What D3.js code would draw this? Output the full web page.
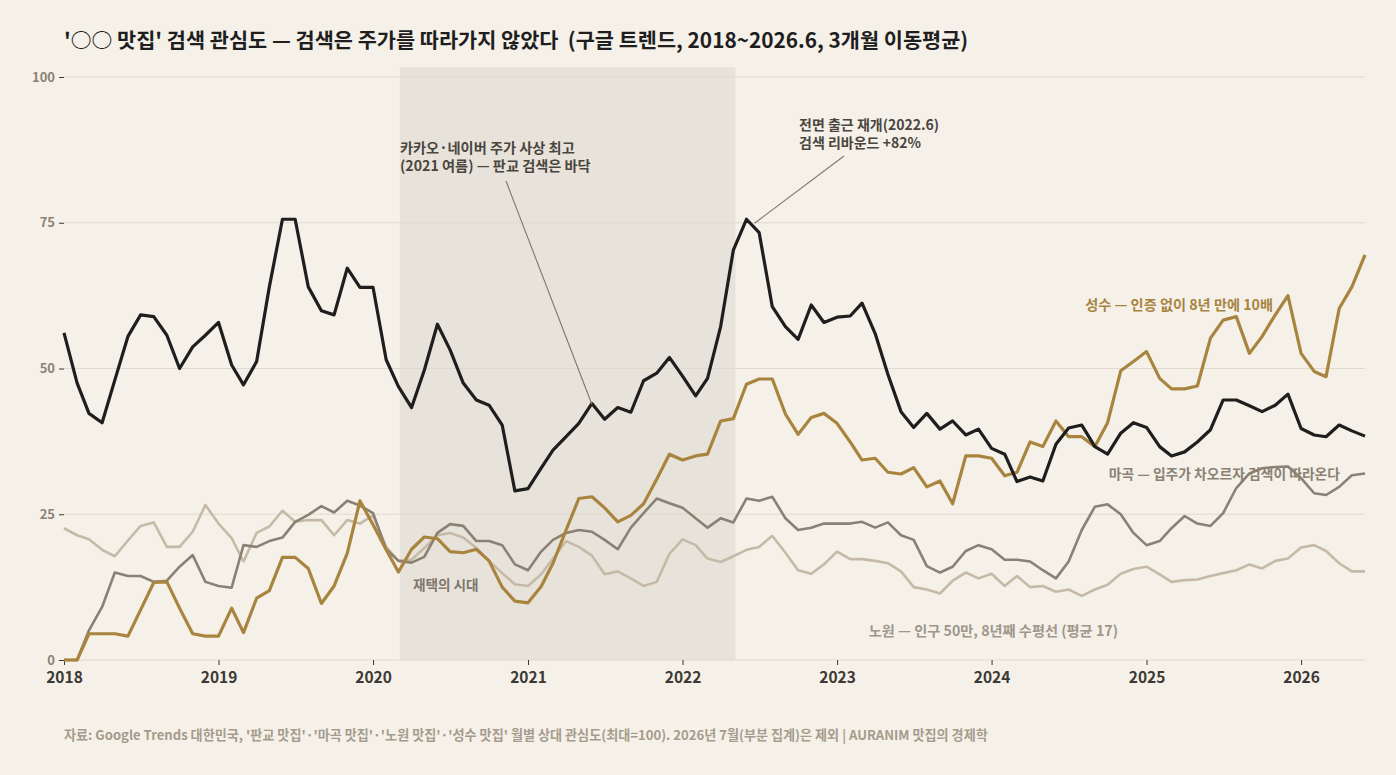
<!DOCTYPE html>
<html>
<head>
<meta charset="utf-8">
<script src="https://cdn.jsdelivr.net/npm/d3@7"></script>
<style>
  body { margin: 0; background: #f5f1e9; }
  svg { display: block; font-family: "Noto Sans CJK KR", "Noto Sans", sans-serif; }
</style>
</head>
<body>
<div id="chart"></div>
<script>
// monthly values, 2018-01 .. 2026-06 (3-month moving average, max = 100)
const startMonth = "2018-01";
const pangyo = [56.1, 47.5, 42.3, 40.7, 48.0, 55.5, 59.2, 58.9, 55.7, 50.0, 53.7, 55.7,
  57.9, 50.6, 47.2, 51.2, 64.0, 75.6, 75.6, 64.0, 59.9, 59.2, 67.2, 63.9,
  63.9, 51.5, 46.9, 43.3, 49.7, 57.6, 53.2, 47.5, 44.6, 43.7, 40.3, 29.0,
  29.4, 32.9, 36.0, 38.3, 40.6, 44.0, 41.3, 43.3, 42.5, 47.9, 49.2, 51.9,
  48.7, 45.3, 48.3, 57.2, 70.3, 75.6, 73.3, 60.6, 57.2, 55.0, 60.9, 57.9,
  58.8, 59.0, 61.2, 56.0, 49.0, 42.6, 39.9, 42.3, 39.6, 41.0, 38.6, 39.6,
  36.3, 35.3, 30.6, 31.4, 30.7, 37.0, 39.8, 40.3, 36.6, 35.3, 38.9, 40.7,
  39.9, 36.6, 35.0, 35.7, 37.4, 39.5, 44.6, 44.6, 43.6, 42.6, 43.7, 45.6,
  39.7, 38.6, 38.3, 40.3, 39.3, 38.4];
const seongsu = [0, 0, 4.5, 4.5, 4.5, 4.1, 8.6, 13.3, 13.4, 8.9, 4.5, 4.1,
  4.1, 8.9, 4.7, 10.6, 11.9, 17.6, 17.6, 15.7, 9.7, 12.7, 18.3, 27.3,
  23.2, 18.9, 15.1, 19.0, 21.1, 20.8, 18.6, 18.4, 19.0, 17.0, 12.5, 10.1,
  9.8, 12.6, 16.6, 22.3, 27.7, 28.0, 26.1, 23.7, 24.8, 26.8, 31.0, 35.3,
  34.3, 35.0, 35.3, 41.0, 41.4, 47.3, 48.2, 48.2, 42.2, 38.7, 41.6, 42.3,
  40.6, 37.4, 34.3, 34.6, 32.2, 31.9, 33.0, 29.7, 30.7, 26.8, 35.0, 35.0,
  34.6, 31.6, 32.2, 37.4, 36.6, 41.0, 38.3, 38.3, 36.6, 40.7, 49.6, 51.2,
  52.9, 48.3, 46.5, 46.5, 47.0, 55.2, 58.3, 58.9, 52.6, 55.5, 59.2, 62.5,
  52.6, 49.5, 48.6, 60.3, 64.0, 69.5];
const magok = [0, 0, 5.1, 9.1, 15.0, 14.4, 14.4, 13.4, 13.6, 16.0, 18.0, 13.4,
  12.7, 12.4, 19.7, 19.4, 20.4, 21.0, 23.7, 24.9, 26.4, 25.3, 27.3, 26.5,
  25.2, 19.0, 17.0, 16.7, 17.7, 21.8, 23.3, 23.0, 20.4, 20.4, 19.7, 16.4,
  15.4, 18.6, 20.6, 21.8, 22.3, 22.0, 20.6, 19.0, 22.7, 25.2, 27.7, 26.9,
  26.1, 24.3, 22.7, 24.3, 23.6, 27.7, 27.3, 28.0, 24.3, 22.3, 22.7, 23.4,
  23.4, 23.4, 23.7, 22.7, 23.6, 21.4, 20.6, 16.1, 15.0, 16.0, 18.7, 19.7,
  19.0, 17.2, 17.2, 16.9, 15.4, 14.0, 16.9, 22.3, 26.3, 26.7, 25.0, 21.8,
  19.7, 20.4, 22.6, 24.7, 23.4, 23.0, 25.2, 29.5, 32.0, 32.9, 33.1, 33.2,
  31.2, 28.6, 28.3, 29.7, 31.7, 32.0];
const nowon = [22.6, 21.4, 20.7, 18.9, 17.8, 20.5, 23.0, 23.6, 19.4, 19.4, 22.0, 26.6,
  23.4, 20.9, 16.9, 21.8, 22.9, 25.6, 23.7, 24.0, 24.0, 21.4, 24.0, 23.4,
  24.8, 19.4, 17.0, 17.2, 19.2, 21.4, 21.8, 21.0, 19.2, 17.0, 14.9, 13.0,
  12.7, 14.7, 17.4, 20.4, 19.4, 17.9, 14.7, 15.2, 14.0, 12.7, 13.4, 18.2,
  20.7, 19.7, 17.4, 16.8, 17.8, 18.9, 19.4, 21.3, 18.4, 15.4, 14.8, 16.4,
  18.6, 17.3, 17.3, 17.0, 16.6, 15.2, 12.5, 12.1, 11.4, 13.6, 15.0, 14.0,
  14.8, 12.7, 14.4, 12.5, 12.7, 11.7, 12.1, 11.0, 12.1, 12.9, 14.8, 15.6,
  16.0, 14.7, 13.4, 13.7, 13.8, 14.4, 14.9, 15.4, 16.4, 15.7, 17.0, 17.4,
  19.3, 19.7, 18.7, 16.6, 15.2, 15.2];

const yTicks = [0, 25, 50, 75, 100];
const xTickYears = [2018, 2019, 2020, 2021, 2022, 2023, 2024, 2025, 2026];
const wfhPeriod = ["2020-03-04", "2022-05-06"];

const width = 1396, height = 775;
const margin = { top: 67, right: 31, bottom: 115, left: 64 };
const fontFamily = '"Noto Sans CJK KR", "Noto Sans", sans-serif';

const parseMonth = d3.timeParse("%Y-%m");
const start = parseMonth(startMonth);
const months = pangyo.map((d, i) => d3.timeMonth.offset(start, i));

const svg = d3.select("#chart").append("svg")
    .attr("width", width)
    .attr("height", height);

svg.append("rect").attr("width", width).attr("height", height).attr("fill", "#f5f1e9");

const x = d3.scaleTime()
    .domain([months[0], months[months.length - 1]])
    .range([margin.left, width - margin.right]);

const y = d3.scaleLinear()
    .domain([0, 100])
    .range([660, 77]);

// shaded remote-work period
const parseDay = d3.timeParse("%Y-%m-%d");
svg.append("rect")
    .attr("x", x(parseDay(wfhPeriod[0])))
    .attr("y", y(101.7))
    .attr("width", x(parseDay(wfhPeriod[1])) - x(parseDay(wfhPeriod[0])))
    .attr("height", y(0) - y(101.7))
    .attr("fill", "#e8e3da");

// gridlines
svg.append("g")
    .selectAll("line")
    .data(yTicks)
    .join("line")
    .attr("x1", margin.left)
    .attr("x2", width - margin.right)
    .attr("y1", d => y(d))
    .attr("y2", d => y(d))
    .attr("stroke", "#e0d9cd")
    .attr("stroke-width", 1);

// axes
const yAxis = svg.append("g")
    .attr("transform", "translate(" + margin.left + ",0)")
    .call(d3.axisLeft(y).tickValues(yTicks).tickSize(5).tickPadding(4))
    .attr("font-family", fontFamily);
yAxis.select(".domain").remove();
yAxis.selectAll("line").attr("stroke", "#3a3630");
yAxis.selectAll("text")
    .attr("fill", "#8a8276")
    .style("font-size", "13px")
    .style("font-weight", "600");

const xAxis = svg.append("g")
    .attr("transform", "translate(0," + y(0) + ")")
    .call(d3.axisBottom(x)
        .tickValues(xTickYears.map(yr => new Date(yr, 0, 1)))
        .tickFormat(d3.timeFormat("%Y"))
        .tickSize(5).tickPadding(7))
    .attr("font-family", fontFamily);
xAxis.select(".domain").remove();
xAxis.selectAll("line").attr("stroke", "#3a3630");
xAxis.selectAll("text")
    .attr("fill", "#3d3934")
    .style("font-size", "15.5px")
    .style("font-weight", "700");

// series lines
const series = [
  { name: "nowon", values: nowon, color: "#c5baa7", width: 2.6 },
  { name: "magok", values: magok, color: "#8a8174", width: 2.6 },
  { name: "seongsu", values: seongsu, color: "#a8843f", width: 3.2 },
  { name: "pangyo", values: pangyo, color: "#1e1e1e", width: 3.2 }
];

const line = d3.line()
    .x((d, i) => x(months[i]))
    .y(d => y(d));

svg.append("g")
    .selectAll("path")
    .data(series)
    .join("path")
    .attr("d", d => line(d.values))
    .attr("fill", "none")
    .attr("stroke", d => d.color)
    .attr("stroke-width", d => d.width)
    .attr("stroke-linejoin", "round");

// annotations
const peakIdx = 53;   // 2022-06
const lowIdx = 41;    // 2021-06
svg.append("line")
    .attr("x1", 506).attr("y1", 181)
    .attr("x2", x(months[lowIdx])).attr("y2", y(pangyo[lowIdx]) + 1)
    .attr("stroke", "#7d766c").attr("stroke-width", 1.1);
svg.append("line")
    .attr("x1", 844).attr("y1", 156)
    .attr("x2", x(months[peakIdx]) + 8).attr("y2", y(pangyo[peakIdx]) + 4)
    .attr("stroke", "#7d766c").attr("stroke-width", 1.1);

function note(lines, px, py, opts) {
  const t = svg.append("text")
      .attr("x", px).attr("y", py)
      .attr("fill", opts.color)
      .attr("text-anchor", opts.anchor || "start")
      .style("font-size", opts.size + "px")
      .style("font-weight", "700");
  lines.forEach((s, i) => {
    t.append("tspan").attr("x", px).attr("dy", i === 0 ? 0 : opts.lh).text(s);
  });
}

note(["카카오·네이버 주가 사상 최고", "(2021 여름) — 판교 검색은 바닥"], 400, 153,
     { color: "#4a453f", size: 14.2, lh: 17.5 });
note(["전면 출근 재개(2022.6)", "검색 리바운드 +82%"], 799, 130,
     { color: "#4a453f", size: 14, lh: 18 });
note(["성수 — 인증 없이 8년 만에 10배"], 1273, 310,
     { color: "#a8843f", size: 14.2, anchor: "end" });
note(["마곡 — 입주가 차오르자 검색이 따라온다"], 1340, 479,
     { color: "#8a8174", size: 13.8, anchor: "end" });
note(["노원 — 인구 50만, 8년째 수평선 (평균 17)"], 1118, 636,
     { color: "#a0968a", size: 14.2, anchor: "end" });
note(["재택의 시대"], 413, 590,
     { color: "#7d766c", size: 13.6 });

// title and source
svg.append("text")
    .attr("x", 64).attr("y", 48)
    .attr("fill", "#1e1e1e")
    .attr("xml:space", "preserve")
    .style("font-size", "20.8px")
    .style("font-weight", "700")
    .text("'○○ 맛집' 검색 관심도 — 검색은 주가를 따라가지 않았다  (구글 트렌드, 2018~2026.6, 3개월 이동평균)");

svg.append("text")
    .attr("x", 64).attr("y", 740)
    .attr("fill", "#a59b8c")
    .style("font-size", "13.1px")
    .style("font-weight", "700")
    .text("자료: Google Trends 대한민국, '판교 맛집'·'마곡 맛집'·'노원 맛집'·'성수 맛집' 월별 상대 관심도(최대=100). 2026년 7월(부분 집계)은 제외 | AURANIM 맛집의 경제학");
</script>
</body>
</html>
